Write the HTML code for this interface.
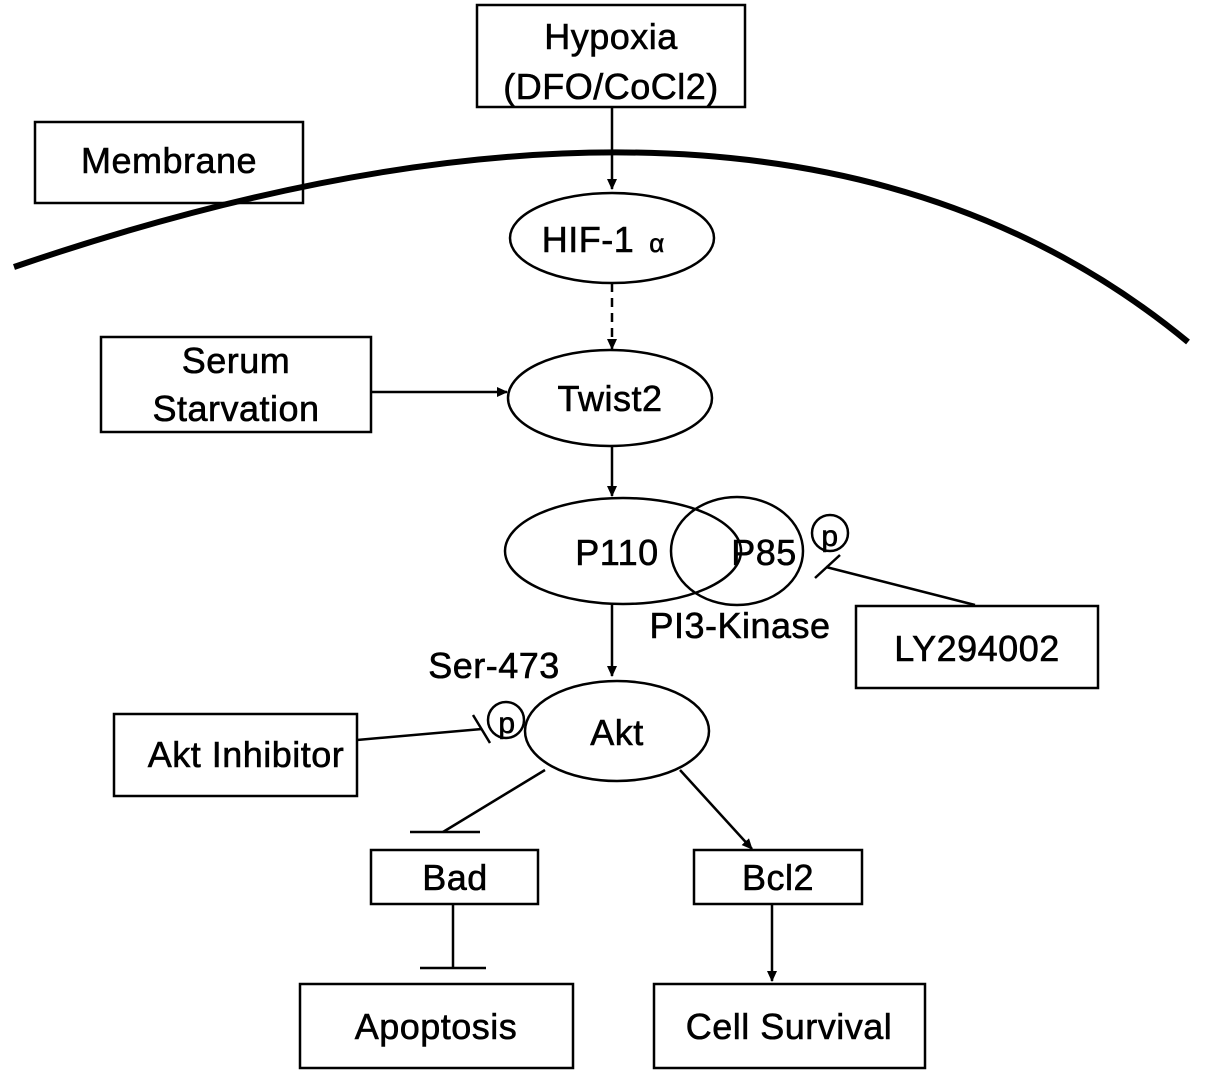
<!DOCTYPE html>
<html><head><style>body{margin:0;background:#fff}svg{display:block}text{font-family:"Liberation Sans",Arial,sans-serif;fill:#000;stroke:#000;stroke-width:0.6;letter-spacing:0.5px}</style></head><body>
<svg width="1205" height="1083" viewBox="0 0 1205 1083" xmlns="http://www.w3.org/2000/svg">
<defs><marker id="a" markerWidth="12" markerHeight="12" refX="10" refY="6" orient="auto" markerUnits="userSpaceOnUse"><path d="M0,1 L11,6 L0,11 z" fill="#000"/></marker></defs>
<g fill="none" stroke="#000" stroke-width="2.5">
<path d="M14 267 Q 780 5 1188 342" stroke-width="6"/>
<rect x="477" y="5" width="268" height="102" fill="#fff"/>
<rect x="35" y="122" width="268" height="81"/>
<line x1="612" y1="107" x2="612" y2="189" marker-end="url(#a)"/>
<ellipse cx="612" cy="238" rx="102" ry="45" fill="#fff"/>
<line x1="612" y1="283" x2="612" y2="349" stroke-dasharray="9,6" marker-end="url(#a)"/>
<ellipse cx="610" cy="398" rx="102" ry="48"/>
<rect x="101" y="337" width="270" height="95"/>
<line x1="371" y1="392" x2="507" y2="392" marker-end="url(#a)"/>
<line x1="612" y1="446" x2="612" y2="496" marker-end="url(#a)"/>
<ellipse cx="623" cy="551" rx="118" ry="53"/>
<ellipse cx="737" cy="551" rx="66" ry="54"/>
<circle cx="830" cy="533" r="18"/>
<line x1="815" y1="578" x2="840" y2="555"/>
<line x1="826" y1="567" x2="975" y2="605"/>
<rect x="856" y="606" width="242" height="82"/>
<line x1="612" y1="605" x2="612" y2="676" marker-end="url(#a)"/>
<ellipse cx="617" cy="731" rx="92" ry="50"/>
<circle cx="506" cy="720" r="18"/>
<rect x="114" y="714" width="243" height="82"/>
<line x1="357" y1="740" x2="482" y2="729"/>
<line x1="473" y1="715" x2="490" y2="743"/>
<line x1="545" y1="770" x2="443" y2="832"/>
<line x1="410" y1="832" x2="480" y2="832"/>
<line x1="680" y1="770" x2="752" y2="849" marker-end="url(#a)"/>
<rect x="371" y="850" width="167" height="54"/>
<rect x="694" y="850" width="168" height="54"/>
<line x1="453" y1="904" x2="453" y2="968"/>
<line x1="420" y1="968" x2="486" y2="968"/>
<line x1="772" y1="904" x2="772" y2="981" marker-end="url(#a)"/>
<rect x="300" y="984" width="273" height="84"/>
<rect x="654" y="984" width="271" height="84"/>
</g>
<g font-size="36" text-anchor="middle">
<text x="611" y="49">Hypoxia</text>
<text x="611" y="99">(DFO/CoCl2)</text>
<text x="169" y="173">Membrane</text>
<text x="588" y="252">HIF-1</text><text x="657" y="252" font-size="26">α</text>
<text x="610" y="411">Twist2</text>
<text x="236" y="373">Serum</text>
<text x="236" y="421">Starvation</text>
<text x="617" y="565">P110</text>
<text x="764" y="565">P85</text>
<text x="830" y="546" font-size="30">p</text>
<text x="740" y="638">PI3-Kinase</text>
<text x="977" y="661">LY294002</text>
<text x="494" y="678">Ser-473</text>
<text x="617" y="745">Akt</text>
<text x="507" y="733" font-size="30">p</text>
<text x="246" y="767">Akt Inhibitor</text>
<text x="455" y="890">Bad</text>
<text x="778" y="890">Bcl2</text>
<text x="436" y="1039">Apoptosis</text>
<text x="789" y="1039">Cell Survival</text>
</g>
</svg>
</body></html>
